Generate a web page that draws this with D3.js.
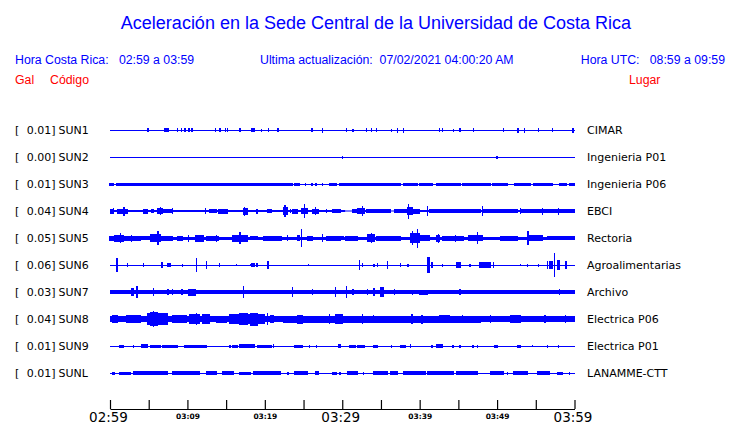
<!DOCTYPE html>
<html><head><meta charset="utf-8">
<script src="https://cdn.jsdelivr.net/npm/d3@7"></script>
<style>body{margin:0;background:#fff}svg{display:block}</style>
</head><body>
<svg id="c" width="740" height="423"></svg>
<script>
// ---- data ----
const codes  = ["SUN1","SUN2","SUN3","SUN4","SUN5","SUN6","SUN7","SUN8","SUN9","SUNL"];
const places = ["CIMAR","Ingenieria P01","Ingenieria P06","EBCI","Rectoria","Agroalimentarias","Archivo","Electrica P06","Electrica P01","LANAMME-CTT"];
const peaks  = ["0.01","0.00","0.01","0.04","0.05","0.06","0.03","0.04","0.01","0.01"];
// time axis: minutes since 02:59 local
const tickMinutes = [0,5,10,15,20,25,30,35,40,45,50,55,60];
const tickLabels  = {0:"02:59",10:"03:09",20:"03:19",30:"03:29",40:"03:39",50:"03:49",60:"03:59"};
const bigTicks = [0,30,60];
// baseline half-amplitude of each trace (relative units)
const baseAmp = [0.5,0.5,0.5,1.4,1.5,0.5,2,3,0.5,0.5];
// quiet stretches [t0,t1] where trace thins to a line
const quiet = [[],[],[],[[30.4,31.3],[36.2,36.8]],[],[],[],[],[],[]];
// bursts [t0 (min), t1 (min), half-amplitude]
const sun1 = [[4.9,4.9,2],[7.1,7.5,2],[8.7,8.7,2],[9.2,9.2,2],[9.7,9.7,2],[10.2,10.2,2],[10.6,10.6,2],[13.6,13.6,2],[14.2,14.2,2],[14.9,14.9,2],[15.2,15.2,2],[16.8,16.8,2],[18.3,18.7,2],[19.6,19.6,1.5],[20.5,20.5,2],[21.7,21.7,2],[26.1,26.1,2],[27.4,27.4,2.5],[30.6,30.6,2],[31.4,31.4,1.5],[33.1,33.1,2],[33.8,33.8,2],[34.4,34.4,2],[36.4,36.4,1.5],[37.1,37.1,2.5],[37.9,37.9,2.5],[42.6,42.6,2],[43.0,43.0,2],[44.4,44.4,1.5],[45.2,45.2,2],[47.0,47.0,2],[50.8,50.8,2],[52.7,52.7,2.5],[53.5,53.5,2.5],[55.3,55.3,2],[57.2,57.2,2],[59.8,59.8,2.5]];
const sun2 = [[30.0,30.0,1.5],[50.0,50.0,1.5]];
const sun3 = [[0,0.4,1.5],[0.8,1.2,1.5],[1.4,2.1,1.5],[2.3,2.6,1.5],[2.8,20.3,1.5],[20.5,23.6,1.5],[23.8,24.5,1.5],[25.3,25.3,1.5],[26.1,26.1,1.5],[26.6,26.6,1.5],[27.5,27.5,1.5],[28.4,29.3,1.5],[29.7,37.5,1.5],[37.9,39.7,1.5],[40.0,41.7,1.5],[42.2,45.2,1.5],[45.6,49.1,1.5],[49.4,51.3,1.5],[52.3,54.3,1.5],[54.7,57.1,1.5],[58.1,59.0,1.5],[59.4,60,1.5]];
const sun4 = [[0.1,0.4,2.5],[0.5,0.5,3],[1.0,2.2,2.5],[1.8,1.8,4.5],[4.3,4.8,2.5],[5.4,5.6,2],[6.2,6.8,3],[6.5,6.5,4],[6.8,8.1,2],[8.1,8.1,3],[12.3,12.3,3],[12.9,13.8,2],[14.0,15.2,2.5],[17.2,17.8,3.5],[17.4,17.4,4.5],[19.0,19.0,2.5],[20.3,20.9,2],[22.4,22.9,4],[22.6,22.6,6],[23.3,23.3,2],[23.6,24.2,2.5],[24.8,25.5,3],[25.1,25.1,7],[26.2,26.9,2.5],[26.5,26.5,4],[28.0,28.0,2],[28.8,29.7,2],[31.3,32.0,2],[32.0,32.9,3],[32.6,32.6,5],[33.2,36.2,2],[36.8,38.4,2],[38.4,39.0,4],[38.6,38.6,7.5],[39.1,40.0,2.5],[41.0,41.0,5],[41.3,44.6,2],[44.8,47.8,2],[48.1,48.1,5],[48.2,50.0,2],[50.1,52.6,2],[53.0,53.0,3],[53.2,60,2],[55.9,55.9,3.5],[57.9,57.9,3.5]];
const sun5 = [[0,0.6,2.5],[0.6,1.7,3.5],[1.4,1.4,5],[1.9,3.9,2.5],[2.8,2.8,3.5],[3.9,5.2,2],[5.2,6.5,4],[6.2,6.2,7],[6.5,8.0,2.5],[8.7,9.4,2.5],[10.1,10.1,3.5],[11.0,12.0,3.5],[12.5,14.0,2.5],[13.8,13.8,3.5],[15.9,17.7,3.5],[16.8,16.8,6],[18.1,19.0,2],[19.8,22.2,2.5],[22.9,22.9,3],[24.2,24.5,3],[24.7,24.7,9],[25.5,26.1,2.5],[27.5,27.5,4],[28.0,29.7,2.5],[28.4,30.1,2],[30.4,32.0,2.5],[33.3,34.2,4],[33.8,33.8,5],[34.5,37.5,2.5],[38.8,40.0,5],[39.1,39.1,7],[39.7,39.7,9.5],[40.0,41.3,3],[42.2,42.6,3.5],[42.4,42.4,4.5],[43.0,45.6,2.5],[44.6,44.6,3.5],[46.3,48.1,3],[47.5,47.5,6],[50.4,52.6,2.5],[53.9,55.9,3],[54.0,54.0,7],[56.5,60,2]];
const sun6 = [[0.9,0.9,7],[2.3,2.3,2],[4.3,4.3,2],[6.7,6.8,3],[7.5,7.8,2],[9.4,9.4,1.5],[11.2,11.2,7],[12.5,12.5,4],[14.1,14.1,2],[16.3,16.3,1],[18.1,18.1,1],[18.3,18.7,2],[19.0,19.0,2],[20.3,20.4,4],[25.6,25.6,1],[32.2,32.2,5],[32.6,32.6,2],[34.1,34.1,1.5],[34.6,34.6,2],[35.8,35.8,4],[37.5,37.5,2],[38.5,38.5,1.5],[41.0,41.2,8],[41.6,41.6,3],[43.0,43.0,1.5],[44.8,45.2,3],[46.5,46.5,1.5],[47.8,49.1,3],[49.5,49.5,3],[53.0,53.0,1],[53.9,53.9,1.5],[55.4,55.4,1.5],[56.5,56.5,4],[56.8,57.2,4],[57.4,57.4,12],[57.8,58.1,5],[58.9,58.9,4]];
const sun7 = [[2.8,3.0,4],[3.5,3.5,6],[5.6,5.6,4],[7.5,7.5,3],[8.1,8.1,3],[9.3,9.3,3],[10.1,11.0,3.5],[17.2,17.2,6],[23.6,23.6,5],[26.2,26.2,3],[29.1,29.1,5],[30.6,30.6,6],[31.4,31.4,3],[33.3,33.3,3],[34.0,34.0,4],[34.2,34.2,4],[34.9,35.3,5],[36.8,36.8,3],[39.1,39.1,2.5],[40.0,41.0,2.5],[45.2,45.2,3],[58.1,58.1,3]];
const sun8 = [[0.3,0.9,4],[2.2,3.9,4],[4.8,7.4,6],[5.2,6.1,7],[5.6,5.6,8],[7.4,7.4,5],[8.1,9.9,4],[10.3,11.6,5],[11.2,11.2,6],[12.0,12.9,5],[13.8,15.1,3.5],[15.5,18.1,5],[16.8,17.7,6],[18.1,19.0,6.5],[19.1,20.0,5],[20.3,20.3,6],[20.7,21.1,4],[22.4,47.8,3.5],[24.2,24.9,4.5],[28.4,28.4,5],[29.1,30.0,5],[32.6,32.6,5],[34.0,34.0,4],[39.0,39.0,5],[40.3,40.3,4.5],[42.6,43.9,4],[45.5,45.5,4],[47.8,60,3.3],[49.1,49.1,4],[51.7,53.0,4],[56.2,56.2,4],[58.8,58.8,4]];
const sun9 = [[1.3,1.7,1.5],[3.0,3.0,1.5],[4.1,4.8,2],[5.2,6.5,1.5],[6.8,7.8,1.5],[8.0,8.7,1.5],[9.7,12.5,1.5],[15.5,15.5,1.5],[15.9,16.4,1.5],[16.8,18.1,2],[18.3,18.7,2],[19.1,20.9,1.5],[21.1,21.1,2],[23.9,24.8,1.5],[25.8,25.8,1.5],[26.7,26.7,1.5],[29.5,29.7,2],[31.0,31.7,1.5],[32.0,32.9,1.5],[34.0,34.6,1.5],[36.4,36.4,1.5],[37.5,38.1,1.5],[38.8,38.8,2],[41.6,41.7,1.5],[42.2,42.9,2],[44.3,44.3,1.5],[45.2,45.2,1.5],[46.8,46.9,1.5],[47.5,47.5,1.5],[49.7,50.1,1.5],[52.6,53.0,1.5],[54.6,54.6,1],[56.5,56.5,1.5],[57.9,57.9,1.5]];
const sunl = [[0.3,0.6,1.5],[1.3,2.6,1.5],[3.0,7.4,2],[8.1,11.6,2],[12.5,13.8,2],[14.6,15.9,2],[16.8,18.1,1.5],[18.5,22.0,2],[23.0,23.0,1.5],[23.9,25.5,2],[26.5,26.9,2],[28.7,29.3,1.5],[29.7,29.7,1.5],[30.7,32.0,2],[32.7,32.7,1.5],[34.0,35.8,2],[36.2,37.1,2],[37.9,40.7,2],[41.0,44.3,2],[44.8,47.5,2],[49.1,50.8,2],[51.3,51.3,1.5],[52.1,53.9,2],[55.2,56.8,2],[57.8,58.5,1.5],[59.4,59.4,1.5]];
const bursts = [sun1,sun2,sun3,sun4,sun5,sun6,sun7,sun8,sun9,sunl];

// ---- drawing ----
const svg = d3.select("#c");
const blue = "#0000ff", red = "#ff0000";
const x = d3.scaleLinear().domain([0,60]).range([110,574.5]);
const y = d3.scalePoint().domain(codes).range([130,373]);
const a = d3.scaleLinear().domain([0,1]).range([0,1]);
const sans = "'Liberation Sans', Arial, sans-serif";
const dv = "'DejaVu Sans', sans-serif";

svg.append("text").attr("x",376).attr("y",29).attr("text-anchor","middle")
  .attr("font-family",sans).attr("font-size",18).attr("fill",blue)
  .text("Aceleración en la Sede Central de la Universidad de Costa Rica");
const hdr = (tx,xx,yy,col,anchor) => svg.append("text").attr("x",xx).attr("y",yy)
  .attr("font-family",sans).attr("font-size",12.3).attr("fill",col)
  .attr("text-anchor",anchor||"start").attr("xml:space","preserve").style("white-space","pre").text(tx);
hdr("Hora Costa Rica:   02:59 a 03:59",15,64,blue);
hdr("Ultima actualización:  07/02/2021 04:00:20 AM",260,64,blue);
hdr("Hora UTC:   08:59 a 09:59",725,64,blue,"end");
hdr("Gal",15,84,red);
hdr("Código",50,84,red);
hdr("Lugar",629,84,red);

codes.forEach((c,i)=>{
  const yc = y(c);
  const g = svg.append("g").attr("fill",blue).attr("shape-rendering","crispEdges");
  const b = Math.max(a(baseAmp[i]),0.5);
  g.append("rect").attr("x",x(0)).attr("width",x(60)-x(0)).attr("y",yc-b).attr("height",2*b);
  quiet[i].forEach(q=>{
    svg.append("rect").attr("x",x(q[0])).attr("width",x(q[1])-x(q[0])).attr("y",yc-b-0.5).attr("height",2*b+1).attr("fill","#fff");
    svg.append("rect").attr("x",x(q[0])).attr("width",x(q[1])-x(q[0])).attr("y",yc-0.5).attr("height",1).attr("fill",blue);
  });
  const g2 = svg.append("g").attr("fill",blue).attr("shape-rendering","crispEdges");
  g2.selectAll("rect").data(bursts[i]).join("rect")
    .attr("x",d=>x(d[0])-0.6).attr("width",d=>x(d[1])-x(d[0])+1.2)
    .attr("y",d=>yc-a(d[2])).attr("height",d=>2*a(d[2]));
  const lab = svg.append("g").attr("font-family",dv).attr("font-size",11).attr("fill","#000");
  lab.append("text").attr("x",15).attr("y",yc+4).text("[");
  lab.append("text").attr("x",55.5).attr("y",yc+4).attr("text-anchor","end").text(peaks[i]+"]");
  lab.append("text").attr("x",58.5).attr("y",yc+4).text(c);
  lab.append("text").attr("x",587).attr("y",yc+4).text(places[i]);
});

const axis = d3.axisBottom(x).tickValues(tickMinutes).tickSizeInner(-9).tickSizeOuter(0)
  .tickFormat(d=>tickLabels[d]||"");
const ag = svg.append("g").attr("transform","translate(0,409)").call(axis);
ag.select(".domain").attr("stroke","#000").attr("stroke-width",1.2);
ag.selectAll(".tick line").attr("stroke","#000").attr("stroke-width",1.2);
ag.selectAll(".tick text").attr("fill","#000").attr("font-family",dv)
  .attr("dy",null)
  .attr("y",d=>bigTicks.includes(d)?12.5:9.5)
  .attr("x",d=>bigTicks.includes(d)?-2:0)
  .attr("font-size",d=>bigTicks.includes(d)?13.5:7.5)
  .attr("font-weight",d=>bigTicks.includes(d)?"normal":"bold");
</script>
</body></html>
